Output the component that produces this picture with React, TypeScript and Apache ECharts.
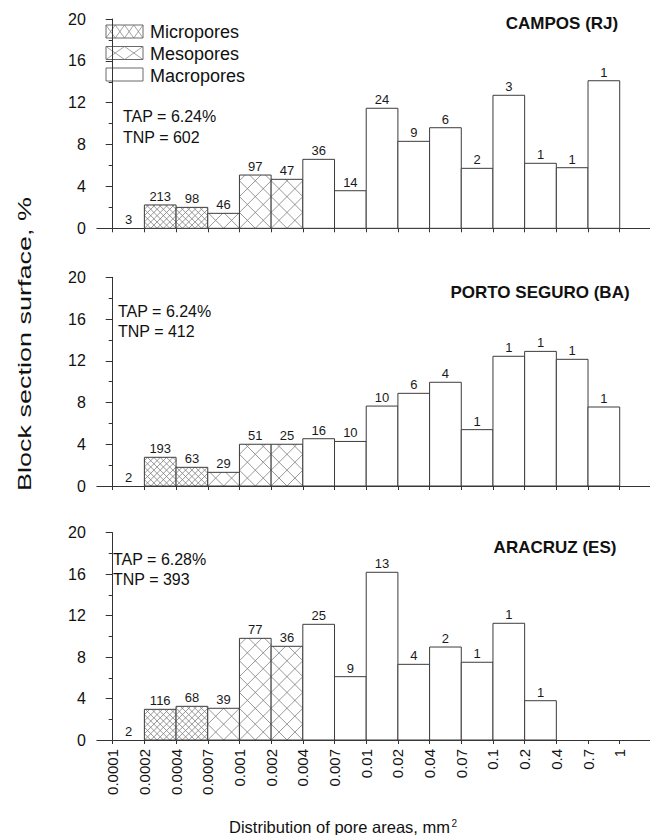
import React, { useEffect, useRef } from "react";
import * as echarts from "echarts";

// ---------- data ----------
const binEdges = ["0.0001", "0.0002", "0.0004", "0.0007", "0.001", "0.002", "0.004", "0.007", "0.01", "0.02", "0.04", "0.07", "0.1", "0.2", "0.4", "0.7", "1"];
// pore class of each bin (0 micro, 1 meso, 2 macro)
const binClass = [0, 0, 0, 1, 1, 1, 2, 2, 2, 2, 2, 2, 2, 2, 2, 2];

const camposValues = [0, 2.23, 2.0, 1.43, 5.09, 4.68, 6.59, 3.59, 11.47, 8.31, 9.61, 5.73, 12.71, 6.21, 5.79, 14.1];
const camposCounts = [3, 213, 98, 46, 97, 47, 36, 14, 24, 9, 6, 2, 3, 1, 1, 1];
const portoValues = [0, 2.75, 1.79, 1.31, 4.0, 4.0, 4.53, 4.27, 7.66, 8.88, 9.94, 5.4, 12.43, 12.9, 12.14, 7.57];
const portoCounts = [2, 193, 63, 29, 51, 25, 16, 10, 10, 6, 4, 1, 1, 1, 1, 1];
const aracruzValues = [0, 2.96, 3.25, 3.06, 9.81, 9.04, 11.16, 6.11, 16.18, 7.3, 8.97, 7.5, 11.26, 3.79, 0, 0];
const aracruzCounts = [2, 116, 68, 39, 77, 36, 25, 9, 13, 4, 2, 1, 1, 1, null, null];

const panelTitles = ["CAMPOS (RJ)", "PORTO SEGURO (BA)", "ARACRUZ (ES)"];
const panelTap = ["TAP = 6.24%", "TAP = 6.24%", "TAP = 6.28%"];
const panelTnp = ["TNP = 602", "TNP = 412", "TNP = 393"];
const legendNames = ["Micropores", "Mesopores", "Macropores"];
const yTicks = { min: 0, max: 20, interval: 4 };
const yTitle = "Block section surface, %";
const xTitle = "Distribution of pore areas, mm";
const xTitleSup = "2";

// ---------- layout ----------
const FONT = "'Liberation Sans', Arial, Helvetica, sans-serif";
const GRID_LEFT = 96.85;
const GRID_WIDTH = 570.4;
const gridTops = [19, 277.3, 532.7];
const gridHeights = [209.3, 208.7, 207.3];
const titlePos = [[562, 23.3], [540, 292.7], [555, 547.3]];
const tapPos = [[123, 116.7, 137.3], [118, 311.7, 331.5], [113, 559, 579.5]];
const MICRO_P = 6.34;
const MESO_P = 15.85;

function hatch(x0: number, y0: number, x1: number, y1: number, p: number, s: number) {
  const w0 = y0 / s, w1 = y1 / s;
  const segs: number[][] = [];
  const a = x0 + w1;
  const cmin = x0 + w0, cmax = x1 + w1;
  let n = Math.ceil((cmin - a) / p - 1e-6);
  for (let c = a + n * p; c <= cmax + 1e-6; c += p) {
    const ua = Math.max(x0, c - w1), ub = Math.min(x1, c - w0);
    if (ub - ua > 0.05) segs.push([ua, (c - ua) * s, ub, (c - ub) * s]);
  }
  const b = x0 - w1;
  const dmin = x0 - w1, dmax = x1 - w0;
  n = Math.ceil((dmin - b) / p - 1e-6);
  for (let d = b + n * p; d <= dmax + 1e-6; d += p) {
    const ua = Math.max(x0, d + w0), ub = Math.min(x1, d + w1);
    if (ub - ua > 0.05) segs.push([ua, (ua - d) * s, ub, (ub - d) * s]);
  }
  return segs;
}

function lineEl(sg: number[], color: string, w: number) {
  return { type: "line", shape: { x1: sg[0], y1: sg[1], x2: sg[2], y2: sg[3] }, style: { stroke: color, lineWidth: w }, silent: true };
}

function makeRender(counts: (number | null)[]) {
  return (params: any, api: any) => {
    const i = api.value(0) as number;
    const v = api.value(1) as number;
    const cls = binClass[params.dataIndex];
    const tl = api.coord([i, v]);
    const br = api.coord([i + 1, 0]);
    const x0 = tl[0], y0 = tl[1], x1 = br[0], y1 = br[1];
    const children: any[] = [];
    if (v > 0) {
      children.push({ type: "rect", shape: { x: x0, y: y0, width: x1 - x0, height: y1 - y0 }, style: { fill: "#ffffff", stroke: null } });
      if (cls < 2) {
        const p = cls === 0 ? MICRO_P : MESO_P;
        for (const sg of hatch(x0, y0, x1, y1, p, 1)) children.push(lineEl(sg, "#7d7d7d", 0.8));
      }
      children.push({ type: "rect", shape: { x: x0, y: y0, width: x1 - x0, height: y1 - y0 }, style: { fill: "none", stroke: "#3c3c3c", lineWidth: 1 } });
    }
    const c = counts[params.dataIndex];
    if (c !== null && c !== undefined) {
      children.push({
        type: "text",
        x: (x0 + x1) / 2,
        y: y0 - 2,
        style: { text: String(c), align: "center", verticalAlign: "bottom", textAlign: "center", textVerticalAlign: "bottom", fontSize: 13, fontFamily: FONT, fill: "#1a1a1a" },
      });
    }
    return { type: "group", children };
  };
}

function txt(text: string, x: number, y: number, size: number, align: string, weight = "normal", extra: any = {}) {
  return {
    type: "text",
    x,
    y,
    silent: true,
    ...extra,
    style: { text, fontSize: size, fontWeight: weight, fontFamily: FONT, fill: "#111", align, verticalAlign: "middle", textAlign: align, textVerticalAlign: "middle" },
  };
}

export default function App() {
  const ref = useRef<HTMLDivElement>(null);
  useEffect(() => {
    document.body.style.margin = "0";
    if (!ref.current) return;
    const chart = echarts.init(ref.current, undefined, { renderer: "svg" });
    const panels = [
      { values: camposValues, counts: camposCounts },
      { values: portoValues, counts: portoCounts },
      { values: aracruzValues, counts: aracruzCounts },
    ];
    const axisColor = "#333";
    const grid: any[] = [];
    const xAxis: any[] = [];
    const yAxis: any[] = [];
    const series: any[] = [];
    panels.forEach((pn, g) => {
      grid.push({ left: GRID_LEFT, width: GRID_WIDTH, top: gridTops[g], height: gridHeights[g] });
      xAxis.push({
        type: "category",
        gridIndex: g,
        data: [...binEdges, ""],
        boundaryGap: true,
        axisLine: { show: true, lineStyle: { color: axisColor, width: 1 } },
        axisTick: { show: true, alignWithLabel: true, interval: 0, length: 4, lineStyle: { color: axisColor } },
        axisLabel: { show: g === 2, interval: 0, rotate: 90, fontSize: 15, fontFamily: FONT, color: "#111", margin: 9 },
        splitLine: { show: false },
      });
      xAxis.push({ type: "value", gridIndex: g, min: -0.5, max: 17.5, show: false, splitLine: { show: false } });
      yAxis.push({
        type: "value",
        gridIndex: g,
        min: yTicks.min,
        max: yTicks.max,
        interval: yTicks.interval,
        axisLine: { show: true, lineStyle: { color: axisColor, width: 1 } },
        axisTick: { show: true, length: 7, lineStyle: { color: axisColor } },
        minorTick: { show: true, splitNumber: 2, length: 4, lineStyle: { color: axisColor } },
        splitLine: { show: false },
        minorSplitLine: { show: false },
        axisLabel: { fontSize: 16, fontFamily: FONT, color: "#111", margin: 11 },
      });
      series.push({
        type: "custom",
        xAxisIndex: 2 * g + 1,
        yAxisIndex: g,
        renderItem: makeRender(pn.counts),
        data: pn.values.map((v, i) => [i, v]),
        clip: false,
      });
    });

    const graphics: any[] = [];
    panelTitles.forEach((t, g) => {
      graphics.push(txt(t, titlePos[g][0], titlePos[g][1], 17, "center", "bold"));
      graphics.push(txt(panelTap[g], tapPos[g][0], tapPos[g][1], 16, "left"));
      graphics.push(txt(panelTnp[g], tapPos[g][0], tapPos[g][2], 16, "left"));
    });
    // legend
    const legBoxes = [[106, 25, 37, 13], [106, 46.5, 37, 13], [106, 68, 37, 13]];
    const legText = [32.3, 53.5, 75.5];
    legendNames.forEach((name, k) => {
      const [bx, by, bw, bh] = legBoxes[k];
      graphics.push({ type: "rect", shape: { x: bx, y: by, width: bw, height: bh }, style: { fill: "#fff", stroke: null }, silent: true });
      if (k < 2) {
        const segs = k === 0 ? hatch(bx, by, bx + bw, by + bh, 9.25, 13 / 9.25) : hatch(bx, by, bx + bw, by + bh, 18.5, 13 / 18.5);
        segs.forEach((sg) => graphics.push(lineEl(sg, "#8a8a8a", 0.8)));
      }
      graphics.push({ type: "rect", shape: { x: bx, y: by, width: bw, height: bh }, style: { fill: "none", stroke: "#6a6a6a", lineWidth: 1 }, silent: true });
      graphics.push(txt(name, 150, legText[k], 18, "left"));
    });
    // axis titles
    graphics.push(txt(yTitle, 24, 344, 19, "center", "normal", { rotation: Math.PI / 2, scaleX: 1.42 }));
    graphics.push(txt(xTitle, 450, 826.5, 16.5, "right"));
    graphics.push(txt(xTitleSup, 451.5, 823.5, 10, "left"));

    chart.setOption({
      animation: false,
      backgroundColor: "#ffffff",
      grid,
      xAxis,
      yAxis,
      series,
      graphic: { elements: graphics },
    });
    return () => chart.dispose();
  }, []);
  return (
    <div style={{ width: 650, height: 835, overflow: "hidden", position: "relative" }}>
      <div ref={ref} style={{ width: 680, height: 835 }} />
    </div>
  );
}
